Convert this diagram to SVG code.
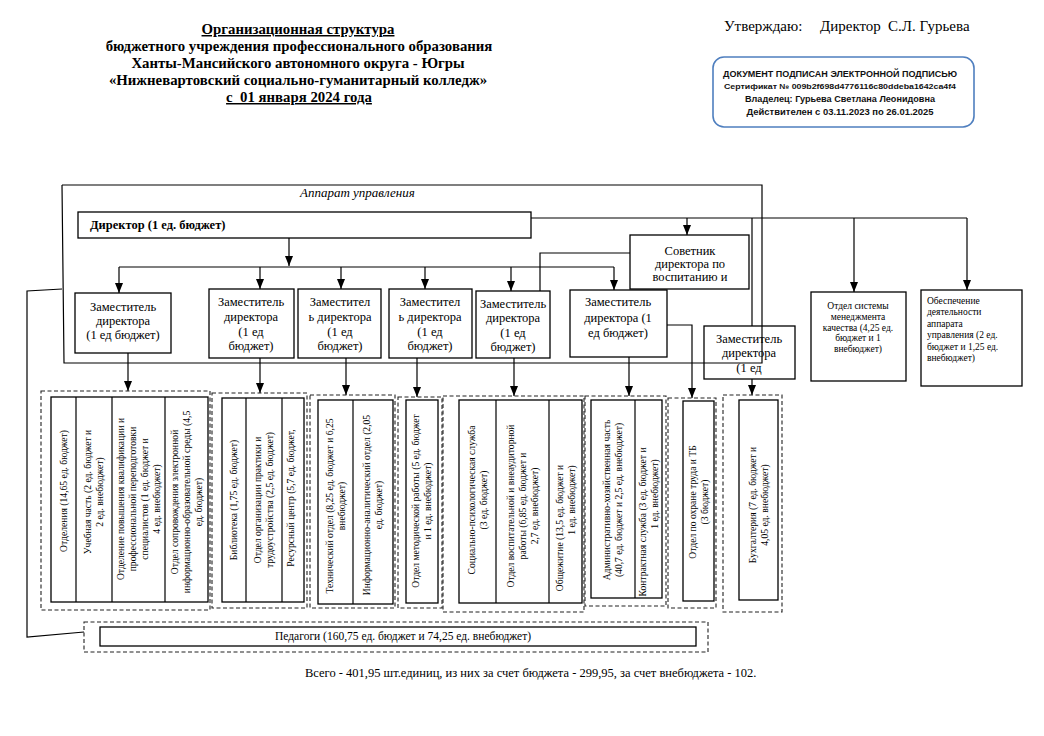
<svg xmlns="http://www.w3.org/2000/svg" width="1044" height="736" viewBox="0 0 1044 736">
<defs>
<marker id="ar" markerUnits="userSpaceOnUse" markerWidth="10" markerHeight="10" viewBox="0 0 10 10" refX="10" refY="5" orient="auto">
<path d="M0,1 L10,5 L0,9 Z" fill="#000"/>
</marker>
<style>
.t{font-family:"Liberation Serif","Times New Roman",serif;fill:#000}
.ttl{font-size:14.8px;font-weight:bold;text-anchor:middle}
.box{fill:#fff;stroke:#000;stroke-width:1.3}
.dash{fill:none;stroke:#222;stroke-width:1.1;stroke-dasharray:4 2.5}
.ln{fill:none;stroke:#000;stroke-width:1.2}
.arr{fill:none;stroke:#000;stroke-width:1.2;marker-end:url(#ar)}
.dep{font-size:12.5px;text-anchor:middle}
.sm{font-size:9.5px;text-anchor:middle}
.vt{font-size:9.6px;text-anchor:middle}
.st{font-family:"Liberation Sans",Arial,sans-serif;font-weight:bold;fill:#111;text-anchor:middle}
</style>
</defs>
<rect width="1044" height="736" fill="#fff"/>

<g id="title">
<text class="t ttl" x="298" y="34" text-decoration="underline">Организационная структура</text>
<text class="t ttl" x="299" y="51">бюджетного учреждения профессионального образования</text>
<text class="t ttl" x="298" y="68">Ханты-Мансийского автономного округа - Югры</text>
<text class="t ttl" x="298" y="85">«Нижневартовский социально-гуманитарный колледж»</text>
<text class="t ttl" x="299" y="102" text-decoration="underline" xml:space="preserve">с  01 января 2024 года</text>
</g>

<g id="approve">
<text class="t" font-size="15" y="31"><tspan x="724">Утверждаю:</tspan><tspan x="820">Директор</tspan><tspan x="888">С.Л. Гурьева</tspan></text>
</g>

<g id="stamp">
<rect x="713" y="57" width="261" height="70" rx="11" fill="#fff" stroke="#4f7fbf" stroke-width="1.6"/>
<text class="st" x="840" y="77" font-size="9" textLength="234" lengthAdjust="spacingAndGlyphs">ДОКУМЕНТ ПОДПИСАН ЭЛЕКТРОННОЙ ПОДПИСЬЮ</text>
<text class="st" x="840" y="89" font-size="7" textLength="232" lengthAdjust="spacingAndGlyphs">Сертификат № 009b2f698d4776116c80ddeba1642ca4f4</text>
<text class="st" x="840" y="102" font-size="9" textLength="190" lengthAdjust="spacingAndGlyphs">Владелец: Гурьева Светлана Леонидовна</text>
<text class="st" x="840" y="115" font-size="9" textLength="187" lengthAdjust="spacingAndGlyphs">Действителен с 03.11.2023 по 26.01.2025</text>
</g>

<g id="connectors">
<path class="ln" d="M62,185 L762,185 L762,363 L64,363 L62,185"/>
<path class="ln" d="M62,289 L27,291 L27,637 L84,632"/>
<path class="arr" d="M289,238 L289,266"/>
<path class="ln" d="M119,267 L614,267"/>
<path class="arr" d="M119,267 L119,293"/>
<path class="arr" d="M260,267 L260,289"/>
<path class="arr" d="M341,267 L341,289"/>
<path class="arr" d="M425,267 L425,289"/>
<path class="arr" d="M511,267 L511,291"/>
<path class="arr" d="M614,267 L614,290"/>
<path class="ln" d="M531,218 L967,218"/>
<path class="arr" d="M687,218 L687,235"/>
<path class="ln" d="M752,218 L752,326"/>
<path class="arr" d="M854,218 L854,292"/>
<path class="arr" d="M967,218 L967,290"/>
<path class="ln" d="M630,253 L540,253 L540,291"/>
<path class="arr" d="M663,325 L692,325 L692,398"/>
<path class="arr" d="M128,353 L128,391"/>
<path class="arr" d="M260,358 L260,393"/>
<path class="arr" d="M346,358 L346,395"/>
<path class="arr" d="M417,358 L417,397"/>
<path class="arr" d="M514,358 L514,396"/>
<path class="arr" d="M629,357 L629,396"/>
<path class="arr" d="M752,379 L752,395"/>
</g>

<g id="apparatus-label">
<text class="t" x="300" y="197" font-size="13" font-style="italic">Аппарат управления</text>
</g>

<g id="director">
<rect class="box" x="78" y="212" width="453" height="26"/>
<text class="t" x="90" y="229" font-size="12.5" font-weight="bold">Директор (1 ед. бюджет)</text>
</g>

<g id="advisor">
<rect class="box" x="630" y="235" width="119" height="54"/>
<text class="t dep"><tspan x="690" y="255">Советник</tspan><tspan x="690" y="268">директора по</tspan><tspan x="690" y="281">воспитанию и</tspan></text>
</g>

<g id="deputy1">
<rect class="box" x="75" y="293" width="96" height="60"/>
<text class="t dep"><tspan x="123" y="311">Заместитель</tspan><tspan x="123" y="325">директора</tspan><tspan x="123" y="339">(1 ед бюджет)</tspan></text>
</g>
<g id="deputy2">
<rect class="box" x="209" y="289" width="85" height="69"/>
<text class="t dep"><tspan x="251" y="306">Заместитель</tspan><tspan x="251" y="321">директора</tspan><tspan x="251" y="336">(1 ед</tspan><tspan x="251" y="350">бюджет)</tspan></text>
</g>
<g id="deputy3">
<rect class="box" x="298" y="289" width="83" height="69"/>
<text class="t dep"><tspan x="340" y="306">Заместител</tspan><tspan x="340" y="321">ь директора</tspan><tspan x="340" y="336">(1 ед</tspan><tspan x="340" y="350">бюджет)</tspan></text>
</g>
<g id="deputy4">
<rect class="box" x="389" y="289" width="83" height="69"/>
<text class="t dep"><tspan x="430" y="306">Заместител</tspan><tspan x="430" y="321">ь директора</tspan><tspan x="430" y="336">(1 ед</tspan><tspan x="430" y="350">бюджет)</tspan></text>
</g>
<g id="deputy5">
<rect class="box" x="476" y="291" width="74" height="67"/>
<text class="t dep"><tspan x="513" y="308">Заместитель</tspan><tspan x="513" y="322">директора</tspan><tspan x="513" y="337">(1 ед</tspan><tspan x="513" y="351">бюджет)</tspan></text>
</g>
<g id="deputy6">
<rect class="box" x="570" y="290" width="97" height="67"/>
<text class="t dep"><tspan x="618" y="306">Заместитель</tspan><tspan x="618" y="322">директора (1</tspan><tspan x="618" y="337">ед бюджет)</tspan></text>
</g>
<g id="deputy7">
<rect class="box" x="704" y="326" width="91" height="53" style="fill:none"/>
<text class="t dep"><tspan x="749" y="343">Заместитель</tspan><tspan x="749" y="357">директора</tspan><tspan x="749" y="372">(1 ед</tspan></text>
</g>

<g id="quality">
<rect class="box" x="811" y="292" width="95" height="89"/>
<text class="t sm"><tspan x="858" y="309">Отдел системы</tspan><tspan x="858" y="320">менеджмента</tspan><tspan x="858" y="331">качества (4,25 ед.</tspan><tspan x="858" y="341">бюджет и 1</tspan><tspan x="858" y="352">внебюджет)</tspan></text>
</g>
<g id="support">
<rect class="box" x="921" y="290" width="101" height="96"/>
<text class="t" font-size="9.5"><tspan x="927" y="304">Обеспечение</tspan><tspan x="927" y="315">деятельности</tspan><tspan x="927" y="327">аппарата</tspan><tspan x="927" y="338">управления (2 ед.</tspan><tspan x="927" y="350">бюджет и 1,25 ед.</tspan><tspan x="927" y="361">внебюджет)</tspan></text>
</g>

<g id="group1">
<rect class="dash" x="41" y="391" width="169" height="219"/>
<rect class="box" x="51" y="397" width="157" height="205"/>
<path class="ln" d="M76,397 V602 M112,397 V602 M165,397 V602"/>
<text class="t vt" transform="translate(63.5,491) rotate(-90)"><tspan x="0" y="3.4">Отделения (14,65 ед. бюджет)</tspan></text>
<text class="t vt" transform="translate(94,492) rotate(-90)"><tspan x="0" y="-2.6">Учебная часть (2 ед. бюджет и</tspan><tspan x="0" y="9.4">2 ед. внебюджет)</tspan></text>
<text class="t vt" transform="translate(138.5,499) rotate(-90)"><tspan x="0" y="-14.6">Отделение повышения квалификации и</tspan><tspan x="0" y="-2.6">профессиональной переподготовки</tspan><tspan x="0" y="9.4">специалистов (1 ед. бюджет и</tspan><tspan x="0" y="21.4">4 ед. внебюджет)</tspan></text>
<text class="t vt" transform="translate(186.5,502) rotate(-90)"><tspan x="0" y="-8.6">Отдел сопровождения электронной</tspan><tspan x="0" y="3.4">информационно-образовательной среды (4,5</tspan><tspan x="0" y="15.4">ед. бюджет)</tspan></text>
</g>

<g id="group2">
<rect class="dash" x="212" y="393" width="95" height="215"/>
<rect class="box" x="222" y="398" width="82" height="204"/>
<path class="ln" d="M246,398 V602 M282,398 V602"/>
<text class="t vt" transform="translate(234,500) rotate(-90)"><tspan x="0" y="3.4">Библиотека (1,75 ед. бюджет)</tspan></text>
<text class="t vt" transform="translate(264,500) rotate(-90)"><tspan x="0" y="-2.6">Отдел организации практики и</tspan><tspan x="0" y="9.4">трудоустройства (2,5 ед. бюджет)</tspan></text>
<text class="t vt" transform="translate(291,498) rotate(-90)"><tspan x="0" y="3.4">Ресурсный центр (5,7 ед. бюджет,</tspan></text>
</g>

<g id="group3">
<rect class="dash" x="310" y="395" width="85" height="213"/>
<rect class="box" x="318" y="400" width="75" height="204"/>
<path class="ln" d="M353,400 V604"/>
<text class="t vt" transform="translate(335.5,506) rotate(-90)"><tspan x="0" y="-2.6">Технический отдел (8,25 ед. бюджет и 6,25</tspan><tspan x="0" y="9.4">внебюджет)</tspan></text>
<text class="t vt" transform="translate(373,505) rotate(-90)"><tspan x="0" y="-2.6">Информационно-аналитический отдел (2,05</tspan><tspan x="0" y="9.4">ед. бюджет)</tspan></text>
</g>

<g id="group4">
<rect class="dash" x="398" y="397" width="44" height="211"/>
<rect class="box" x="406" y="400" width="32" height="203"/>
<text class="t vt" transform="translate(422,501) rotate(-90)"><tspan x="0" y="-2.6">Отдел методической работы (5 ед. бюджет</tspan><tspan x="0" y="9.4">и 1 ед. внебюджет)</tspan></text>
</g>

<g id="group5">
<rect class="dash" x="443" y="396" width="141" height="216"/>
<rect class="box" x="459" y="400" width="123" height="203"/>
<path class="ln" d="M496,400 V603 M549,400 V603"/>
<text class="t vt" transform="translate(477.5,500) rotate(-90)"><tspan x="0" y="-2.6">Социально-психологическая служба</tspan><tspan x="0" y="9.4">(3 ед. бюджет)</tspan></text>
<text class="t vt" transform="translate(522.5,506) rotate(-90)"><tspan x="0" y="-8.6">Отдел воспитательной и внеаудиторной</tspan><tspan x="0" y="3.4">работы (6,85 ед. бюджет и</tspan><tspan x="0" y="15.4">2,7 ед. внебюджет)</tspan></text>
<text class="t vt" transform="translate(565.5,0) rotate(-90)"><tspan x="-528" y="-2.6">Общежитие (13,5 ед. бюджет и</tspan><tspan x="-500" y="9.4">1 ед. внебюджет)</tspan></text>
</g>

<g id="group6">
<rect class="dash" x="585" y="396" width="81" height="210"/>
<rect class="box" x="591" y="400" width="71" height="198"/>
<path class="ln" d="M635,400 V598"/>
<text class="t vt" transform="translate(613,500) rotate(-90)"><tspan x="0" y="-2.6">Административно-хозяйственная часть</tspan><tspan x="0" y="9.4">(40,7 ед. бюджет и 2,5 ед. внебюджет)</tspan></text>
<text class="t vt" transform="translate(648.5,0) rotate(-90)"><tspan x="-522" y="-2.6">Контрактная служба (3 ед. бюджет и</tspan><tspan x="-494" y="9.4">1 ед. внебюджет)</tspan></text>
</g>

<g id="group7">
<rect class="dash" x="668" y="398" width="48" height="210"/>
<rect class="box" x="683" y="401" width="31" height="200"/>
<text class="t vt" transform="translate(699,502) rotate(-90)"><tspan x="0" y="-2.6">Отдел по охране труда и ТБ</tspan><tspan x="0" y="9.4">(3 бюджет)</tspan></text>
</g>

<g id="group8">
<rect class="dash" x="723" y="395" width="59" height="217"/>
<rect class="box" x="739" y="400" width="39" height="200"/>
<text class="t vt" transform="translate(758.5,505) rotate(-90)"><tspan x="0" y="-2.6">Бухгалтерия (7 ед. бюджет и</tspan><tspan x="0" y="9.4">4,05 ед. внебюджет)</tspan></text>
</g>

<g id="teachers">
<rect class="dash" x="84" y="622" width="624" height="30"/>
<rect class="box" x="100" y="627" width="596" height="19"/>
<text class="t" x="403" y="640" font-size="11.5" text-anchor="middle">Педагоги (160,75 ед. бюджет и 74,25 ед. внебюджет)</text>
</g>

<g id="total">
<text class="t" x="305" y="677" font-size="12.5">Всего - 401,95 шт.единиц, из них за счет бюджета - 299,95, за счет внебюджета - 102.</text>
</g>
</svg>
